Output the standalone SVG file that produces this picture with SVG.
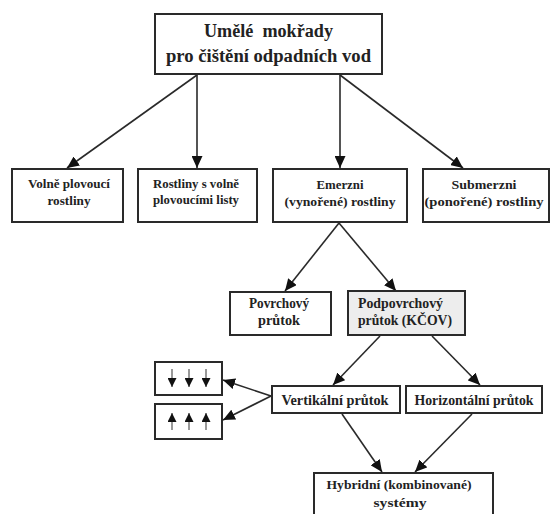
<svg xmlns="http://www.w3.org/2000/svg" width="551" height="514" viewBox="0 0 551 514">
<style>
.box{fill:#fff;stroke:#2a2a2a;stroke-width:2}
.gray{fill:#ededed}
.c{fill:none;stroke:#2a2a2a;stroke-width:1.6}
.s{fill:none;stroke:#555;stroke-width:1.2}
text{font-family:'Liberation Serif','DejaVu Serif',serif;font-weight:bold;fill:#222;text-anchor:middle}
</style>
<defs>
<marker id="ah" markerUnits="userSpaceOnUse" markerWidth="12" markerHeight="11" refX="12" refY="5.5" orient="auto">
<path d="M0,0 L12,5.5 L0,11 z" fill="#111"/>
</marker>
<marker id="sh" markerUnits="userSpaceOnUse" markerWidth="9" markerHeight="9" refX="9" refY="4.5" orient="auto">
<path d="M0,0 L9,4.5 L0,9 z" fill="#111"/>
</marker>
</defs>
<g id="connectors">
<path class="c" d="M197,75 L67,168" marker-end="url(#ah)"/>
<path class="c" d="M197,75 L197,168" marker-end="url(#ah)"/>
<path class="c" d="M340,75 L340,168" marker-end="url(#ah)"/>
<path class="c" d="M340,75 L463,168" marker-end="url(#ah)"/>
<path class="c" d="M339,223 L285,291" marker-end="url(#ah)"/>
<path class="c" d="M339,223 L396,291" marker-end="url(#ah)"/>
<path class="c" d="M380,336 L333,385" marker-end="url(#ah)"/>
<path class="c" d="M432,336 L480,385" marker-end="url(#ah)"/>
<path class="c" d="M342,414 L382,472" marker-end="url(#ah)"/>
<path class="c" d="M472,414 L415,472" marker-end="url(#ah)"/>
<path class="c" d="M271,396 L223,380" marker-end="url(#ah)"/>
<path class="c" d="M271,396 L223,420" marker-end="url(#ah)"/>
</g>
<g id="n-top">
<rect class="box" x="155" y="14" width="227" height="60"/>
<text font-size="18.5" x="268.5" y="37" xml:space="preserve" textLength="129" lengthAdjust="spacingAndGlyphs">Umělé  mokřady</text>
<text font-size="18.5" x="268.5" y="62" textLength="205" lengthAdjust="spacingAndGlyphs">pro čištění odpadních vod</text>
</g>
<g id="n-volne">
<rect class="box" x="12" y="169" width="111" height="53"/>
<text font-size="13.5" x="69" y="188" textLength="82" lengthAdjust="spacingAndGlyphs">Volně plovoucí</text>
<text font-size="13.5" x="69" y="205" textLength="43" lengthAdjust="spacingAndGlyphs">rostliny</text>
</g>
<g id="n-listy">
<rect class="box" x="138" y="169" width="119" height="53"/>
<text font-size="13.5" x="196" y="188" textLength="86" lengthAdjust="spacingAndGlyphs">Rostliny s volně</text>
<text font-size="13.5" x="196" y="204" textLength="86" lengthAdjust="spacingAndGlyphs">plovoucími listy</text>
</g>
<g id="n-emerzni">
<rect class="box" x="273" y="169" width="134" height="53"/>
<text font-size="13.5" x="340" y="189" textLength="47" lengthAdjust="spacingAndGlyphs">Emerzni</text>
<text font-size="13.5" x="340" y="206" textLength="111" lengthAdjust="spacingAndGlyphs">(vynořené) rostliny</text>
</g>
<g id="n-submerzni">
<rect class="box" x="423" y="169" width="126" height="53"/>
<text font-size="13.5" x="484" y="189" textLength="65" lengthAdjust="spacingAndGlyphs">Submerzni</text>
<text font-size="13.5" x="484" y="206" textLength="119" lengthAdjust="spacingAndGlyphs">(ponořené) rostliny</text>
</g>
<g id="n-povrch">
<rect class="box" x="230" y="292" width="101" height="43"/>
<text font-size="14" x="279" y="308" textLength="60" lengthAdjust="spacingAndGlyphs">Povrchový</text>
<text font-size="14" x="279" y="325" textLength="42" lengthAdjust="spacingAndGlyphs">průtok</text>
</g>
<g id="n-podpovrch">
<rect class="box gray" x="348" y="291" width="117" height="44"/>
<text font-size="14" x="358" y="308" style="text-anchor:start" textLength="85" lengthAdjust="spacingAndGlyphs">Podpovrchový</text>
<text font-size="14" x="358" y="325" style="text-anchor:start" textLength="94" lengthAdjust="spacingAndGlyphs">průtok (KČOV)</text>
</g>
<g id="n-vertikal">
<rect class="box" x="272" y="386" width="128" height="27"/>
<text font-size="14" x="335" y="405" textLength="107" lengthAdjust="spacingAndGlyphs">Vertikální průtok</text>
</g>
<g id="n-horizont">
<rect class="box" x="406" y="386" width="136" height="27"/>
<text font-size="14" x="474" y="405" textLength="119" lengthAdjust="spacingAndGlyphs">Horizontální průtok</text>
</g>
<g id="n-hybrid">
<rect class="box" x="314" y="473" width="179" height="50"/>
<text font-size="13.5" x="399" y="489" textLength="145" lengthAdjust="spacingAndGlyphs">Hybridní (kombinované)</text>
<text font-size="13.5" x="400" y="507" textLength="53" lengthAdjust="spacingAndGlyphs">systémy</text>
</g>
<g id="n-down">
<rect class="box" x="155" y="362" width="67" height="33"/>
<path class="s" d="M172,369 L172,387" marker-end="url(#sh)"/>
<path class="s" d="M189,369 L189,387" marker-end="url(#sh)"/>
<path class="s" d="M206,369 L206,387" marker-end="url(#sh)"/>
</g>
<g id="n-up">
<rect class="box" x="155" y="404" width="67" height="35"/>
<path class="s" d="M172,430 L172,413" marker-end="url(#sh)"/>
<path class="s" d="M189,430 L189,413" marker-end="url(#sh)"/>
<path class="s" d="M206,430 L206,413" marker-end="url(#sh)"/>
</g>
</svg>
